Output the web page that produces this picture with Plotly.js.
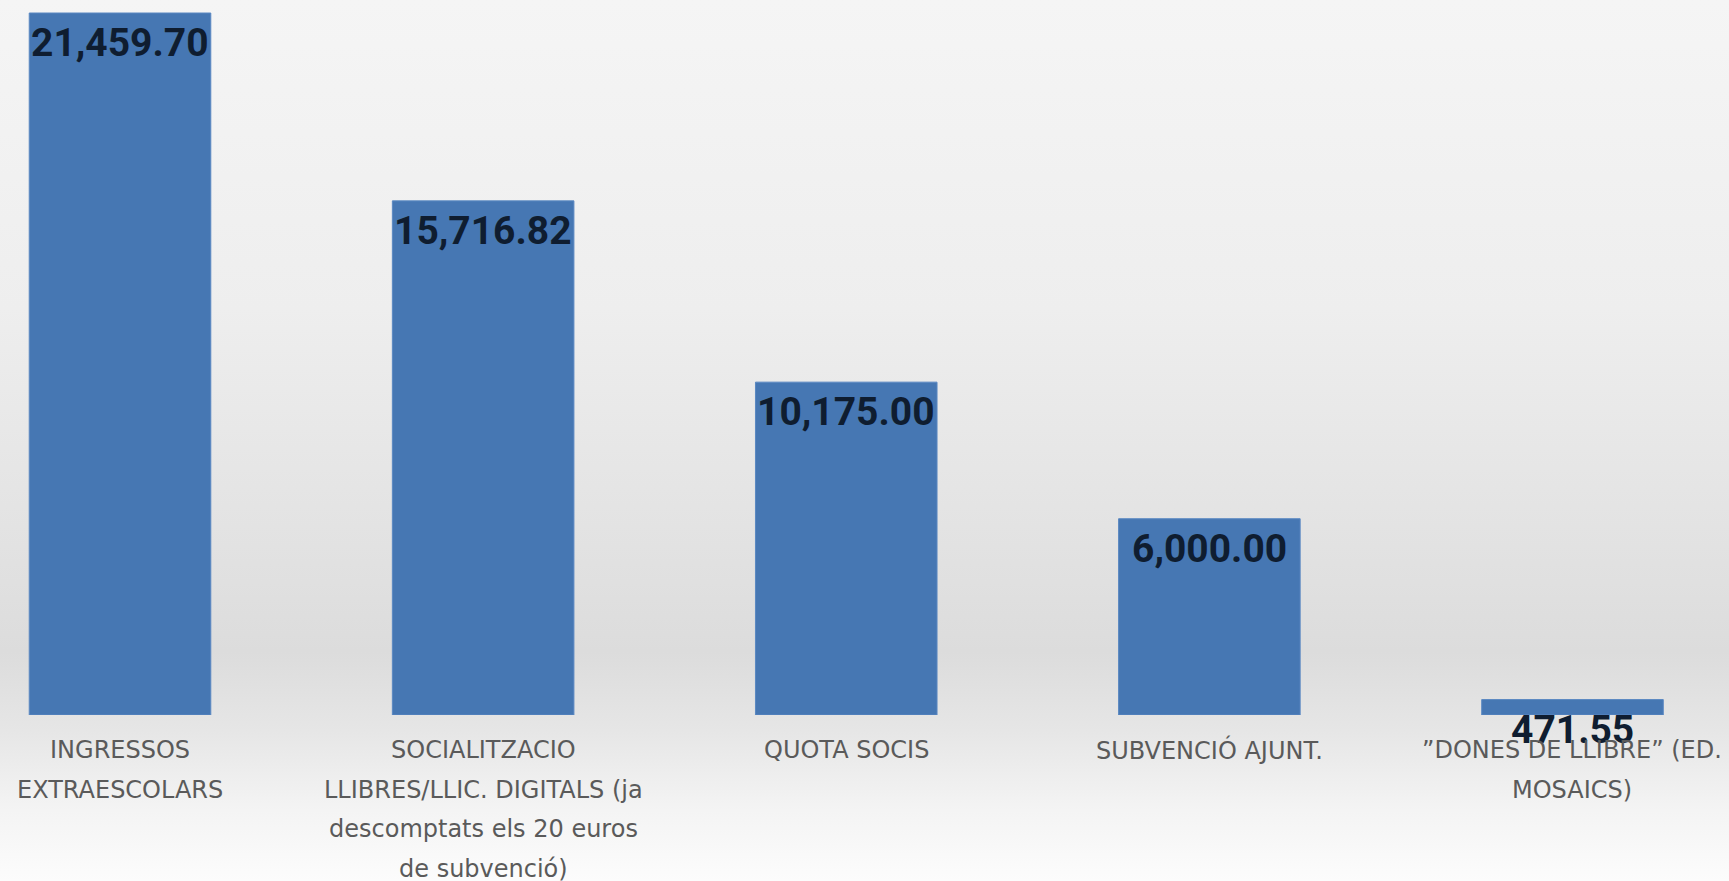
<!DOCTYPE html>
<html>
<head>
<meta charset="utf-8">
<script src="https://cdn.plot.ly/plotly-3.0.1.min.js"></script>
<style>
  html, body { margin:0; padding:0; width:1729px; height:881px; overflow:hidden;
    background: linear-gradient(to bottom, #f5f5f5 0%, #eeeeee 35%, #e2e2e2 62%, #dcdcdc 74%, #e6e6e6 83%, #f4f4f4 92%, #fcfcfc 100%); }
  #chart { width:1729px; height:881px; }
</style>
</head>
<body>
<div id="chart"></div>
<script>
// Category labels, split into the lines shown under each bar
const categoryLines = [
  ["INGRESSOS", "EXTRAESCOLARS"],
  ["SOCIALITZACIO", "LLIBRES/LLIC. DIGITALS (ja", "descomptats els 20 euros", "de subvenció)"],
  ["QUOTA SOCIS"],
  ["SUBVENCIÓ AJUNT."],
  ["\u201DDONES DE LLIBRE\u201D (ED.", "MOSAICS)"]
];
const categories = categoryLines.map(l => l.join(" "));
const values = [21459.70, 15716.82, 10175.00, 6000.00, 471.55];
const valueLabels = ["21,459.70", "15,716.82", "10,175.00", "6,000.00", "471.55"];

const trace = {
  type: "bar",
  x: categories,
  y: values,
  marker: { color: "#4677b3", line: { width: 1, color: "#5a88c2" } },
  hoverinfo: "x+y"
};

const annotations = [];
categories.forEach((c, i) => {
  annotations.push({
    x: c, y: values[i], xref: "x", yref: "y",
    text: valueLabels[i], showarrow: false,
    yanchor: "top", xanchor: "center", yshift: -5,
    font: { family: "Roboto", size: 39, weight: 700, color: "#0f1d30" }
  });
  categoryLines[i].forEach((line, j) => {
    annotations.push({
      x: c, y: 0, xref: "x", yref: "y",
      text: line, showarrow: false,
      yanchor: "middle", xanchor: "center", yshift: -(35 + j * 39.5),
      font: { family: "DejaVu Sans", size: 24, color: "#5a5a5a" }
    });
  });
});

const layout = {
  width: 1729, height: 881,
  margin: { l: 0, r: 0, t: 0, b: 166, pad: 0 },
  paper_bgcolor: "rgba(0,0,0,0)",
  plot_bgcolor: "rgba(0,0,0,0)",
  bargap: 0.5,
  showlegend: false,
  xaxis: { type: "category", range: [-0.3305, 4.431], showticklabels: false,
           showgrid: false, zeroline: false, showline: false, ticks: "" },
  yaxis: { range: [0, 21857], visible: false, showgrid: false, zeroline: false },
  annotations: annotations
};

Plotly.newPlot("chart", [trace], layout, { displayModeBar: false, staticPlot: true });
</script>
</body>
</html>
